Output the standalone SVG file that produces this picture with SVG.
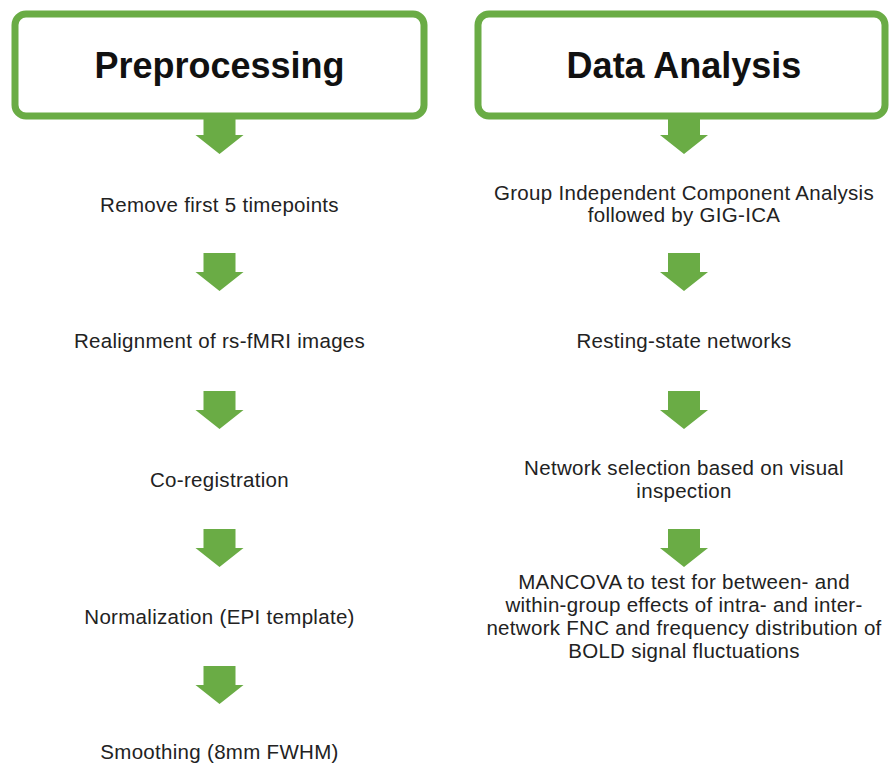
<svg xmlns="http://www.w3.org/2000/svg" width="889" height="768" viewBox="0 0 889 768">
<style>
.box{fill:#fff;stroke:#6aac45;stroke-width:7}
.arr{fill:#6aac45}
.title{font-family:"Liberation Sans",Arial,sans-serif;font-weight:bold;font-size:36px;fill:#111;text-anchor:middle}
.t{font-family:"Liberation Sans",Arial,sans-serif;font-size:20.5px;letter-spacing:0.3px;fill:#222;text-anchor:middle}
</style>
<defs>
<path id="a" d="M-16,0 H16 V19 H24 L0,38 L-24,19 H-16 Z"/>
</defs>
<rect width="889" height="768" fill="#fff"/>
<g id="connectors">
<use href="#a" class="arr" x="219.5" y="116"/>
<use href="#a" class="arr" x="219.5" y="253"/>
<use href="#a" class="arr" x="219.5" y="391"/>
<use href="#a" class="arr" x="219.5" y="529"/>
<use href="#a" class="arr" x="219.5" y="666"/>
<use href="#a" class="arr" x="684" y="116"/>
<use href="#a" class="arr" x="684" y="253"/>
<use href="#a" class="arr" x="684" y="391"/>
<use href="#a" class="arr" x="684" y="529"/>
</g>
<g id="preprocessing"><rect class="box" x="15" y="14" width="409" height="102" rx="11"/><text class="title" x="219.5" y="78">Preprocessing</text></g>
<g id="data-analysis"><rect class="box" x="478" y="14" width="407" height="102" rx="11"/><text class="title" x="684" y="78">Data Analysis</text></g>
<g id="remove"><text class="t" x="219.5" y="212">Remove first 5 timepoints</text></g>
<g id="realign"><text class="t" x="219.5" y="348">Realignment of rs-fMRI images</text></g>
<g id="coreg"><text class="t" x="219.5" y="487">Co-registration</text></g>
<g id="norm"><text class="t" x="219.5" y="624">Normalization (EPI template)</text></g>
<g id="smooth"><text class="t" x="219.5" y="759">Smoothing (8mm FWHM)</text></g>
<g id="gica"><text class="t" x="684" y="200">Group Independent Component Analysis</text><text class="t" x="684" y="222">followed by GIG-ICA</text></g>
<g id="rsn"><text class="t" x="684" y="348">Resting-state networks</text></g>
<g id="netsel"><text class="t" x="684" y="475">Network selection based on visual</text><text class="t" x="684" y="498">inspection</text></g>
<g id="mancova"><text class="t" x="684" y="589">MANCOVA to test for between- and</text><text class="t" x="684" y="612">within-group effects of intra- and inter-</text><text class="t" x="684" y="635">network FNC and frequency distribution of</text><text class="t" x="684" y="658">BOLD signal fluctuations</text></g>
</svg>
